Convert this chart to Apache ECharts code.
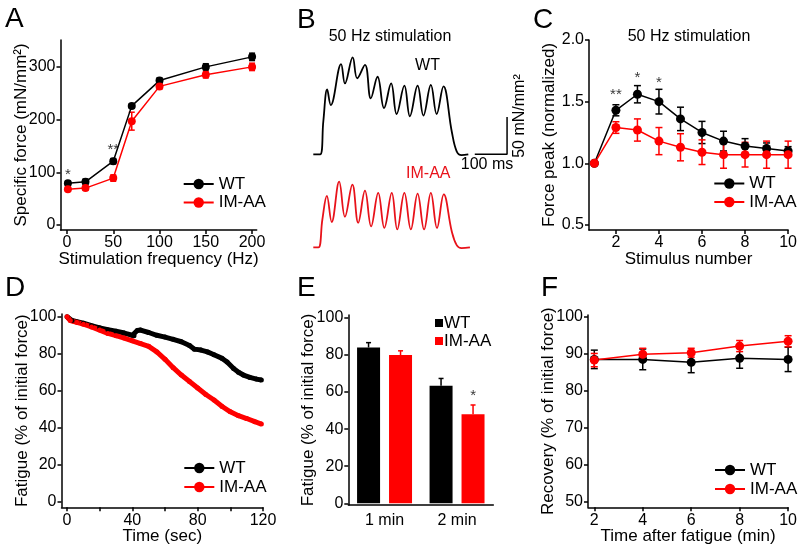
<!DOCTYPE html>
<html><head><meta charset="utf-8">
<script src="https://cdn.jsdelivr.net/npm/echarts@6/dist/echarts.min.js"></script>
<style>html,body{margin:0;padding:0;background:#fff}#c{width:800px;height:550px}</style>
</head><body><div id="c"></div>
<script>
// ---------- Panel A : force-frequency ----------
const freqA = [1, 20, 50, 70, 100, 150, 200];
const wtA = [79, 82, 121, 226, 274, 300, 319];
const wtAErr = [4, 5, 5, 4, 5, 6, 7];
const imA = [68, 70, 89, 197, 263, 285, 300];
const imAErr = [4, 4, 6, 17, 5, 6, 7];
const sigA = [[1, 101, '*'], [50, 148, '**']];
const ticksAx = [0, 50, 100, 150, 200];
const ticksAy = [0, 100, 200, 300];

// ---------- Panel B : 50 Hz traces (ms, mN/mm2) ----------
const traceTwt = [0, 21, 31, 43, 54, 86, 98, 122, 136, 160, 178, 199, 219, 241, 258, 282, 299, 323, 341, 364, 382, 403, 429, 444, 459, 480];
const traceVwt = [0, 0, 44, 87, 66, 121, 95, 130, 102, 120, 75, 104, 62, 95, 54, 92, 51, 92, 52, 93, 54, 91, 30, 4, -1, 0];
const traceTim = [0, 16, 28, 42, 57, 80, 98, 121, 139, 160, 179, 201, 220, 243, 260, 282, 302, 323, 343, 364, 383, 404, 429, 444, 459, 485];
const traceVim = [0, 0, 37, 69, 34, 88, 41, 84, 33, 76, 28, 73, 26, 73, 24, 73, 24, 72, 24, 73, 26, 71, 21, 3, -1, 0];
const scaleBar = [[500, 0], [600, 0], [600, 50]];

// ---------- Panel C : peak force per stimulus ----------
const stimC = [1, 2, 3, 4, 5, 6, 7, 8, 9, 10];
const wtC = [1.0, 1.43, 1.56, 1.50, 1.36, 1.25, 1.18, 1.14, 1.12, 1.10];
const wtCErr = [0, 0.045, 0.07, 0.10, 0.095, 0.09, 0.08, 0.06, 0.045, 0.035];
const imC = [1.0, 1.29, 1.27, 1.18, 1.13, 1.09, 1.07, 1.07, 1.07, 1.07];
const imCErr = [0, 0.047, 0.09, 0.11, 0.11, 0.10, 0.11, 0.10, 0.11, 0.11];
const sigC = [[2, 1.58, '**'], [3, 1.72, '*'], [4, 1.68, '*']];

// ---------- Panel D : fatigue time course ----------
const timeDwt = [0, 3, 6, 10, 15, 20, 25, 30, 35, 40, 41, 43, 45, 50, 55, 60, 65, 70, 75, 78, 82, 86, 90, 95, 98, 102, 105, 108, 112, 116, 119];
const fatDwt = [100, 98, 97.3, 96.5, 95.2, 94, 93, 92.2, 91.2, 90, 89.8, 92.6, 92.8, 91.5, 90, 89, 87.8, 86.5, 84.5, 82.5, 82, 81, 79.5, 77.5, 75.5, 72, 70, 68.5, 67.2, 66.3, 65.8];
const timeDim = [0, 2, 6, 10, 15, 20, 25, 30, 35, 40, 45, 50, 55, 60, 65, 70, 75, 80, 85, 90, 95, 100, 105, 110, 115, 119];
const fatDim = [100, 98, 97, 96, 94.5, 92.8, 91, 89.8, 88.5, 87, 85.5, 84, 81, 77, 72.5, 68.5, 65, 61.5, 58, 55, 51.5, 48.6, 46.5, 45, 43.3, 42];

// ---------- Panel E : fatigue bars ----------
const catE = ['1 min', '2 min'];
const wtE = [84, 63.4];
const wtEErr = [2.6, 3.9];
const imE = [79.9, 48];
const imEErr = [2.3, 5];
const sigE = [[1, 59.5, '*']];

// ---------- Panel F : recovery ----------
const timeF = [2, 4, 6, 8, 10];
const wtF = [88.5, 88.5, 87.7, 88.8, 88.5];
const wtFErr = [2.5, 2.8, 2.8, 2.7, 3.3];
const imF = [88.3, 89.9, 90.3, 92.1, 93.4];
const imFErr = [1.8, 1.6, 1.2, 1.5, 1.5];

const FF = 'Liberation Sans, Arial, sans-serif';
const BLACK = '#000', RED = '#ff0000', TRACE_RED = '#e8121a';
const zip = (a, b) => a.map((v, i) => [v, b[i]]);

function vAxis(gi, min, max, ticks, labels, name, nameGap, extra) {
  return Object.assign({
    type: 'value', gridIndex: gi, min: min, max: max,
    name: name, nameLocation: 'middle', nameGap: nameGap, nameMoveOverlap: false,
    nameTextStyle: {fontFamily: FF, fontSize: 17, color: BLACK},
    axisLine: {show: true, onZero: false, lineStyle: {color: BLACK, width: 1.5}},
    axisTick: {show: true, length: 4, customValues: ticks, lineStyle: {color: BLACK, width: 1.5}},
    axisLabel: {customValues: labels, fontFamily: FF, fontSize: 16, color: BLACK, margin: 5},
    splitLine: {show: false}
  }, extra || {});
}
function hidden(gi, min, max) {
  return {type: 'value', gridIndex: gi, min: min, max: max, show: false, splitLine: {show: false}};
}
function lineS(name, gi, xs, ys, color, sym, extra) {
  return Object.assign({
    type: 'line', name: name, xAxisIndex: gi, yAxisIndex: gi,
    data: zip(xs, ys), symbol: 'circle', symbolSize: sym, showSymbol: true,
    itemStyle: {color: color}, lineStyle: {color: color, width: 1.5}, animation: false
  }, extra || {});
}
function errS(gi, xs, ys, es, color, capW, upperOnly, dx) {
  return {
    type: 'custom', xAxisIndex: gi, yAxisIndex: gi, animation: false, z: 3,
    data: xs.map((x, i) => [x, ys[i], es[i]]),
    renderItem: function (params, api) {
      const x = api.value(0), y = api.value(1), e = api.value(2);
      if (!e) return null;
      const hi = api.coord([x, y + e]);
      const lo = api.coord([x, upperOnly ? y : y - e]);
      const cx = hi[0] + (dx || 0);
      const st = {stroke: color, lineWidth: 1.5};
      const ch = [
        {type: 'line', shape: {x1: cx, y1: hi[1], x2: cx, y2: lo[1]}, style: st},
        {type: 'line', shape: {x1: cx - capW / 2, y1: hi[1], x2: cx + capW / 2, y2: hi[1]}, style: st}
      ];
      if (!upperOnly) ch.push({type: 'line', shape: {x1: cx - capW / 2, y1: lo[1], x2: cx + capW / 2, y2: lo[1]}, style: st});
      return {type: 'group', children: ch};
    }
  };
}
function sigS(gi, pts, dx) {
  return {
    type: 'scatter', xAxisIndex: gi, yAxisIndex: gi, symbolSize: 0, animation: false,
    data: pts, silent: true,
    label: {show: true, position: 'inside', formatter: p => p.data[2], offset: [dx || 0, 3],
            fontFamily: FF, fontSize: 15, color: BLACK}
  };
}
function txt(x, y, s, size, opts) {
  return Object.assign({type: 'text', x: x, y: y,
    style: Object.assign({text: s, fontFamily: FF, fontSize: size, fill: BLACK, align: 'center', verticalAlign: 'middle'}, (opts && opts.style) || {})},
    (opts && opts.el) || {});
}
function legend(left, top, gap, extra) {
  return Object.assign({
    left: left, top: top, orient: 'vertical', padding: 0, itemGap: gap,
    itemWidth: 30, itemHeight: 13, selectedMode: false,
    data: ['WT', 'IM-AA'],
    textStyle: {fontFamily: FF, fontSize: 17, color: BLACK}
  }, extra || {});
}

const option = {
  backgroundColor: '#fff',
  animation: false,
  grid: [
    {left: 60.5, top: 40, width: 196.2, height: 190},     // A
    {left: 589, top: 40, width: 201.2, height: 190},      // C
    {left: 61.5, top: 314, width: 201.5, height: 193.3},  // D
    {left: 348.3, top: 315, width: 145, height: 190},     // E
    {left: 588, top: 315, width: 202, height: 192.3},     // F
    {left: 313.3, top: 49.9, width: 219.6, height: 111.9},// B WT
    {left: 313.3, top: 142.9, width: 219.6, height: 111.9}// B IM-AA
  ],
  xAxis: [
    vAxis(0, -7, 205, ticksAx, ticksAx, 'Stimulation frequency (Hz)', 21),
    vAxis(1, 0.75, 10, [2, 4, 6, 8, 10], [2, 4, 6, 8, 10], 'Stimulus number', 21),
    vAxis(2, -3.4, 120, [0, 20, 40, 60, 80, 100, 120], [0, 40, 80, 120], 'Time (sec)', 21),
    {type: 'category', gridIndex: 3, data: catE,
     axisLine: {show: true, onZero: false, lineStyle: {color: BLACK, width: 1.5}},
     axisTick: {show: false}, splitLine: {show: false},
     axisLabel: {fontFamily: FF, fontSize: 16, color: BLACK, margin: 8}},
    vAxis(4, 1.74, 10, timeF, timeF, 'Time after fatigue (min)', 21),
    hidden(5, 0, 680),
    hidden(6, 0, 680)
  ],
  yAxis: [
    vAxis(0, -9.5, 351, ticksAy, ticksAy, 'Specific force (mN/mm²)', 31),
    vAxis(1, 0.459, 2.0, [0.5, 1.0, 1.5, 2.0], [0.5, 1.0, 1.5, 2.0], 'Force peak (normalized)', 31,
      {axisLabel: {customValues: [0.5, 1.0, 1.5, 2.0], formatter: v => v.toFixed(1), fontFamily: FF, fontSize: 16, color: BLACK, margin: 5}}),
    vAxis(2, -3, 101.5, [0, 20, 40, 60, 80, 100], [0, 20, 40, 60, 80, 100], 'Fatigue (% of initial force)', 31),
    vAxis(3, -0.9, 101.5, [0, 20, 40, 60, 80, 100], [0, 20, 40, 60, 80, 100], 'Fatigue (% of initial force)', 31),
    vAxis(4, 48.5, 100.5, [50, 60, 70, 80, 90, 100], [50, 60, 70, 80, 90, 100], 'Recovery (% of initial force)', 31),
    hidden(5, -10, 140),
    hidden(6, -10, 140)
  ],
  legend: [
    legend(182.7, 175.5, 1.5),
    legend(713.3, 175, 1.5),
    legend(183.3, 459.5, 2),
    legend(435, 314.5, 1, {itemWidth: 8, itemHeight: 8,
      data: [{name: 'WT', icon: 'rect'}, {name: 'IM-AA', icon: 'rect'}],
      textStyle: {fontFamily: FF, fontSize: 17, color: BLACK, padding: [0, 0, 0, -4]}}),
    legend(714, 461.5, 2)
  ],
  series: [
    // A
    lineS('WT', 0, freqA, wtA, BLACK, 8),
    lineS('IM-AA', 0, freqA, imA, RED, 8),
    errS(0, freqA, wtA, wtAErr, BLACK, 6),
    errS(0, freqA, imA, imAErr, RED, 6),
    sigS(0, sigA),
    // C
    lineS('WT', 1, stimC, wtC, BLACK, 9),
    lineS('IM-AA', 1, stimC, imC, RED, 9),
    errS(1, stimC, wtC, wtCErr, BLACK, 7),
    errS(1, stimC, imC, imCErr, RED, 7),
    sigS(1, sigC),
    // D
    lineS('WT', 2, timeDwt, fatDwt, BLACK, 5, {lineStyle: {color: BLACK, width: 5}}),
    lineS('IM-AA', 2, timeDim, fatDim, RED, 5, {lineStyle: {color: RED, width: 5}}),
    // E
    {type: 'bar', name: 'WT', xAxisIndex: 3, yAxisIndex: 3, data: wtE, barWidth: 23, barGap: '39%',
     itemStyle: {color: BLACK}, animation: false},
    {type: 'bar', name: 'IM-AA', xAxisIndex: 3, yAxisIndex: 3, data: imE, barWidth: 23, barGap: '39%',
     itemStyle: {color: RED}, animation: false},
    errS(3, [0, 1], wtE, wtEErr, BLACK, 5, true, -16),
    errS(3, [0, 1], imE, imEErr, RED, 5, true, 16),
    sigS(3, sigE, 16),
    // F
    lineS('WT', 4, timeF, wtF, BLACK, 9),
    lineS('IM-AA', 4, timeF, imF, RED, 9),
    errS(4, timeF, wtF, wtFErr, BLACK, 7),
    errS(4, timeF, imF, imFErr, RED, 7),
    // B traces
    {type: 'line', xAxisIndex: 5, yAxisIndex: 5, data: zip(traceTwt, traceVwt), smooth: 0.4, symbol: 'none',
     lineStyle: {color: BLACK, width: 1.8}, animation: false, silent: true},
    {type: 'line', xAxisIndex: 5, yAxisIndex: 5, data: scaleBar, symbol: 'none',
     lineStyle: {color: BLACK, width: 1.5}, animation: false, silent: true},
    {type: 'line', xAxisIndex: 6, yAxisIndex: 6, data: zip(traceTim, traceVim), smooth: 0.4, symbol: 'none',
     lineStyle: {color: TRACE_RED, width: 1.8}, animation: false, silent: true}
  ],
  graphic: [
    txt(5, 19, 'A', 28, {style: {align: 'left'}}),
    txt(297, 20, 'B', 28, {style: {align: 'left'}}),
    txt(533, 20, 'C', 28, {style: {align: 'left'}}),
    txt(5, 288, 'D', 28, {style: {align: 'left'}}),
    txt(297, 288, 'E', 28, {style: {align: 'left'}}),
    txt(541, 288, 'F', 28, {style: {align: 'left'}}),
    txt(390, 37, '50 Hz stimulation', 16),
    txt(689, 37, '50 Hz stimulation', 16),
    txt(427.5, 66, 'WT', 16),
    txt(428.3, 174, 'IM-AA', 16, {style: {fill: TRACE_RED}}),
    txt(487, 165, '100 ms', 16),
    txt(520, 116, '50 mN/mm²', 16, {el: {rotation: Math.PI / 2}})
  ]
};

const chart = echarts.init(document.getElementById('c'), null, {renderer: 'canvas'});
chart.setOption(option);
</script>
</body></html>
